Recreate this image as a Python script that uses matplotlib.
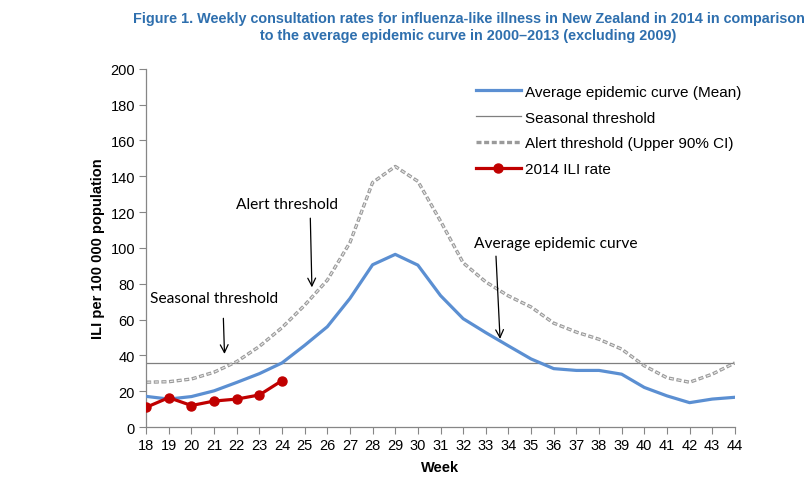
import matplotlib
matplotlib.use("Agg")
import matplotlib.pyplot as plt

weeks = list(range(18, 45))
mean_curve = [17.1, 15.6, 17.0, 20.2, 24.9, 29.8, 35.8, 45.6, 56.0, 71.8, 90.6, 96.4, 90.4,
              73.4, 60.5, 52.7, 45.3, 38.0, 32.6, 31.6, 31.6, 29.5, 22.1, 17.4, 13.6, 15.6, 16.6]
alert_curve = [25.0, 25.3, 26.8, 30.6, 36.5, 45.0, 55.5, 68.0, 82.0, 103.0, 136.5, 145.5, 137.2,
               115.0, 91.7, 81.0, 73.2, 67.0, 58.0, 53.0, 49.0, 43.5, 34.2, 27.5, 25.0, 29.5, 35.8]
seasonal_threshold = 36
weeks_2014 = [18, 19, 20, 21, 22, 23, 24]
rate_2014 = [11.0, 16.4, 12.0, 14.5, 15.6, 17.9, 25.9]

title = ("Figure 1. Weekly consultation rates for influenza-like illness in New Zealand in 2014 in comparison\n"
         "to the average epidemic curve in 2000\u20132013 (excluding 2009)")

plt.rcParams["font.family"] = ["Liberation Sans", "DejaVu Sans"]
plt.rcParams["lines.scale_dashes"] = False

fig = plt.figure(figsize=(8.12, 4.85), dpi=100)
ax = fig.add_axes([0.18, 0.1175, 0.725, 0.7385])

mean_line, = ax.plot(weeks, mean_curve, color="#5B8FD2", lw=2.3, solid_joinstyle="round",
                     label="Average epidemic curve (Mean)", zorder=3)
seas_line = ax.axhline(seasonal_threshold, color="#7F7F7F", lw=0.9, label="Seasonal threshold", zorder=2)
# hollow-looking dashes: grey dash with a light core
alert_line, = ax.plot(weeks, alert_curve, color="#9A9A9A", lw=2.4, linestyle=(0, (3.6, 1.9)),
                      dash_capstyle="butt", label="Alert threshold (Upper 90% CI)", zorder=2)
ax.plot(weeks, alert_curve, color="#EDEDED", lw=0.8, linestyle=(4.8, (2.4, 3.1)),
        dash_capstyle="butt", zorder=2.1)
red_line, = ax.plot(weeks_2014, rate_2014, color="#C00000", lw=2.3, marker="o", markersize=6.5,
                    label="2014 ILI rate", zorder=4)

ax.set_xlim(18, 44)
ax.set_ylim(0, 200)
ax.set_xticks(weeks)
ax.set_yticks(range(0, 201, 20))
ax.tick_params(axis="both", direction="out", length=5, color="#868686", labelsize=10.5, pad=3)
for side in ("top", "right"):
    ax.spines[side].set_visible(False)
for side in ("left", "bottom"):
    ax.spines[side].set_color("#868686")
    ax.spines[side].set_linewidth(0.9)

ax.set_xlabel("Week", fontsize=10.5, fontweight="bold", labelpad=6)
ax.set_ylabel("ILI per 100 000 population", fontsize=10.5, fontweight="bold", labelpad=4)

fig.text(0.577, 0.975, title, ha="center", va="top", fontsize=10.4, fontweight="bold",
         color="#2E6FAE", linespacing=1.3)

# annotation texts with arrows
note_font = dict(fontsize=11.2, family=["Lato", "DejaVu Sans"], va="center", ha="left")
arrow = dict(arrowstyle="->", color="black", lw=0.9, shrinkA=0, shrinkB=0, mutation_scale=14)
ax.text(21.97, 124.6, "Alert threshold", **note_font)
ax.annotate("", xy=(25.32, 78.0), xytext=(25.25, 116.6), arrowprops=arrow)
ax.text(18.18, 72.1, "Seasonal threshold", **note_font)
ax.annotate("", xy=(21.46, 40.8), xytext=(21.41, 60.7), arrowprops=arrow)
ax.text(32.48, 102.8, "Average epidemic curve", **note_font)
ax.annotate("", xy=(33.63, 49.2), xytext=(33.45, 95.4), arrowprops=arrow)

leg = ax.legend(handles=[mean_line, seas_line, alert_line, red_line], loc="upper left",
                bbox_to_anchor=(0.54, 0.99), frameon=False, fontsize=11,
                handlelength=2.9, handletextpad=0.3, labelspacing=0.78, borderaxespad=0.4)

fig.savefig("out.png", dpi=100)
